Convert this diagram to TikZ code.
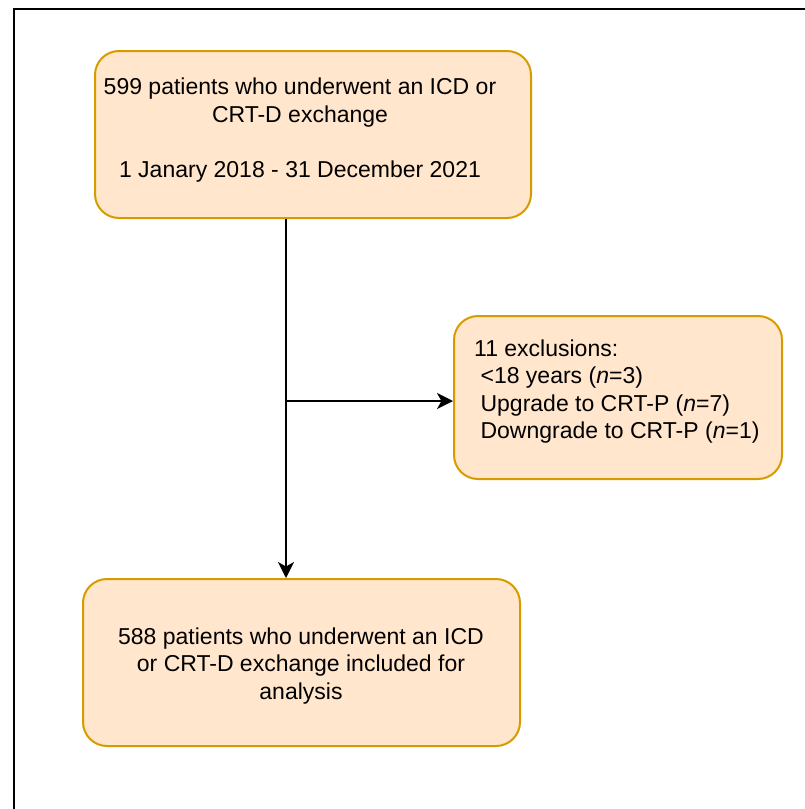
\documentclass[tikz,border=0pt]{standalone}
\usepackage{fontspec}
\setmainfont{Liberation Sans}
\usetikzlibrary{arrows.meta}
\definecolor{boxfill}{HTML}{FFE6CC}
\definecolor{boxline}{HTML}{D79B00}
\begin{document}
\begin{tikzpicture}[x=1pt,y=-1pt,
  box/.style={draw=boxline, fill=boxfill, line width=2pt, rounded corners=24pt, inner sep=0pt},
  txt/.style={inner sep=0pt, font=\fontsize{23pt}{27.5pt}\selectfont},
  conn/.style={line width=2pt, -{Stealth[length=16pt, width=16pt, inset=4.5pt]}}
]
\useasboundingbox (0,0) rectangle (805,809);
\draw[line width=2.5pt] (14,809) |- (805,9);

\node[box, minimum width=436pt, minimum height=167pt] (b1) at (313,134.5) {};
\node[box, minimum width=328pt, minimum height=163pt] (b2) at (618,397.5) {};
\node[box, minimum width=437pt, minimum height=167pt] (b3) at (301.5,662.5) {};

\node[txt, align=center] (t1) at (300,130) {599 patients who underwent an ICD or\\CRT-D exchange\\[27.5pt]1 Janary 2018 - 31 December 2021};
\node[txt, align=left, anchor=north west] (t2) at (474,339.5) {11 exclusions:\\ \ <18 years (\textit{n}=3)\\ \ Upgrade to CRT-P (\textit{n}=7)\\ \ Downgrade to CRT-P (\textit{n}=1)};
\node[txt, align=center] (t3) at (301,665.7) {588 patients who underwent an ICD\\or CRT-D exchange included for\\analysis};

\coordinate (j) at (286,401);
\draw[conn] (b1.south -| j) -- (b3.north -| j);
\draw[conn] (j) -- (b2.west |- j);
\end{tikzpicture}
\end{document}
